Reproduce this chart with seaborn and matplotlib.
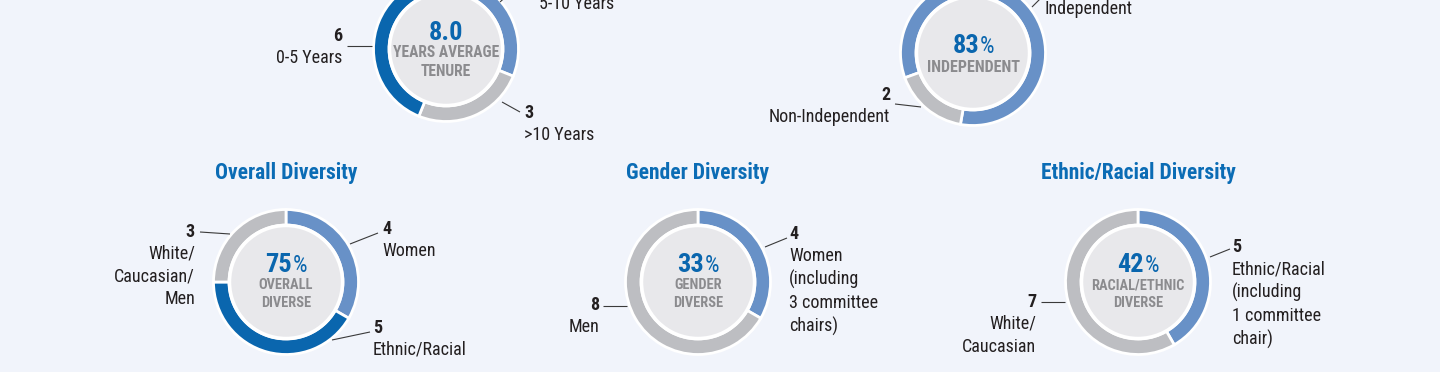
import matplotlib
matplotlib.use('Agg')
import matplotlib.pyplot as plt
from matplotlib import font_manager
import seaborn as sns

# board composition counts
tenure_labels = ['5-10 Years', '>10 Years', '0-5 Years']
tenure_counts = [3, 3, 6]
tenure_average = '8.0'

independence_labels = ['Independent', 'Non-Independent']
independence_counts = [10, 2]

overall_labels = ['Women', 'Ethnic/Racial', 'White/\nCaucasian/\nMen']
overall_counts = [4, 5, 3]

gender_labels = ['Women\n(including\n3 committee\nchairs)', 'Men']
gender_counts = [4, 8]

ethnic_labels = ['Ethnic/Racial\n(including\n1 committee\nchair)', 'White/\nCaucasian']
ethnic_counts = [5, 7]

titles = ['Overall Diversity', 'Gender Diversity', 'Ethnic/Racial Diversity']

# colours
BG = '#F1F4FB'
DARK = '#0A66AE'
LIGHT = '#6891C7'
GREY = '#BDBEC2'
INNER = '#E8E8EB'
TITLE = '#0B6CB5'
CENTER_TXT = '#8B8B8E'
INK = '#231F20'

W, H = 1440, 372
R_OUT, RING = 72.5, 15.5
R_IN = 56.5

sns.set_theme(style='white')
# pick a condensed grotesque if one is around
installed = {f.name for f in font_manager.fontManager.ttflist}
prefs = ['Roboto Condensed', 'Archivo Narrow', 'PT Sans Narrow', 'Liberation Sans Narrow',
         'Fira Sans Condensed']
narrow = next((f for f in prefs if f in installed), 'DejaVu Sans')
plt.rcParams['font.family'] = [narrow, 'DejaVu Sans']

fig = plt.figure(figsize=(W / 100, H / 100), dpi=100, facecolor=BG)
ax = fig.add_axes([0, 0, 1, 1])
ax.set_facecolor(BG)


def donut(center, counts, colors, start):
    # start: clockwise angle from 12 o'clock where the first wedge begins
    # y axis is inverted, so counterclock=True draws clockwise on screen
    ax.pie(counts, colors=colors, center=center, radius=R_OUT,
           startangle=start - 90, counterclock=True,
           wedgeprops=dict(width=RING, edgecolor='white', linewidth=2))
    ax.add_patch(plt.Circle(center, R_IN, facecolor=INNER, edgecolor='white',
                            linewidth=2.5, zorder=3))


def center_text(center, big, small, big_dy, small_dy, small_size=10.4, pct=True):
    cx, cy = center
    if pct:
        ax.text(cx + 6, cy + big_dy, big, ha='right', va='center', fontsize=19,
                fontweight='bold', color=DARK, zorder=5)
        ax.text(cx + 6.5, cy + big_dy + 0.5, '%', ha='left', va='center', fontsize=16.5,
                color=DARK, zorder=5)
    else:
        ax.text(cx, cy + big_dy, big, ha='center', va='center', fontsize=19,
                fontweight='bold', color=DARK, zorder=5)
    ax.text(cx, cy + small_dy, small, ha='center', va='center', fontsize=small_size,
            fontweight='bold', color=CENTER_TXT, linespacing=1.35, zorder=5)


def label(x, y_num, num, text, ha, leader, line_gap=1.33):
    ax.text(x, y_num, str(num), ha=ha, va='center', fontsize=13,
            fontweight='bold', color=INK)
    ax.text(x, y_num + 13, text, ha=ha, va='top', fontsize=13,
            color=INK, linespacing=line_gap)
    (x0, y0), (x1, y1) = leader
    ax.plot([x0, x1], [y0, y1], color='#3A3A3A', lw=0.8, solid_capstyle='butt')


# --- top row (cropped) ---
c_ten = (446, 49)
donut(c_ten, tenure_counts, [LIGHT, GREY, DARK], 22)
center_text(c_ten, tenure_average, 'YEARS AVERAGE\nTENURE', -16, 13, small_size=11.2, pct=False)
label(539, -18, tenure_counts[0], tenure_labels[0], 'left', [(500, 2), (511, -8)])
label(524, 113, tenure_counts[1], tenure_labels[1], 'left', [(502, 102), (520, 112)])
label(342, 36, tenure_counts[2], tenure_labels[2], 'right', [(347, 46), (372, 46)])

c_ind = (973, 53)
donut(c_ind, independence_counts, [LIGHT, GREY], 250)
center_text(c_ind, round(100 * independence_counts[0] / sum(independence_counts)),
            'INDEPENDENT', -7, 14, small_size=11.6)
label(1044, -13, independence_counts[0], independence_labels[0], 'left',
      [(1032, 7), (1041, -2)])
label(890, 95, independence_counts[1], independence_labels[1], 'right',
      [(895, 104), (921, 107)])

# --- bottom row ---
cy = 282
centers = [(286, cy), (698, cy), (1138, cy)]
for (cx, _), t in zip(centers, titles):
    ax.text(cx, 173, t, ha='center', va='center', fontsize=15.5,
            fontweight='bold', color=TITLE)

c = centers[0]
donut(c, overall_counts, [LIGHT, DARK, GREY], 0)
center_text(c, round(100 * (sum(overall_counts) - overall_counts[2]) / sum(overall_counts)),
            'OVERALL\nDIVERSE', -17, 12)
label(382, 229, overall_counts[0], overall_labels[0], 'left', [(350, 244), (378, 233)])
label(373, 328, overall_counts[1], overall_labels[1], 'left', [(332, 340), (370, 332)])
label(195, 232, overall_counts[2], overall_labels[2], 'right', [(200, 232), (230, 234)])

c = centers[1]
donut(c, gender_counts, [LIGHT, GREY], 0)
center_text(c, round(100 * gender_counts[0] / sum(gender_counts)),
            'GENDER\nDIVERSE', -17, 12)
label(789, 234, gender_counts[0], gender_labels[0], 'left', [(765, 247), (787, 238)])
label(599, 305, gender_counts[1], gender_labels[1], 'right', [(603, 306), (627, 306)])

c = centers[2]
donut(c, ethnic_counts, [LIGHT, GREY], 0)
center_text(c, round(100 * ethnic_counts[0] / sum(ethnic_counts)),
            'RACIAL/ETHNIC\nDIVERSE', -17, 12)
label(1232, 247, ethnic_counts[0], ethnic_labels[0], 'left', [(1210, 257), (1230, 249)])
label(1036, 302, ethnic_counts[1], ethnic_labels[1], 'right', [(1041, 302), (1065, 302)])

ax.set_xlim(0, W)
ax.set_ylim(H, 0)
ax.set_aspect('equal')
ax.axis('off')

fig.savefig('out.png', dpi=100, facecolor=BG)
